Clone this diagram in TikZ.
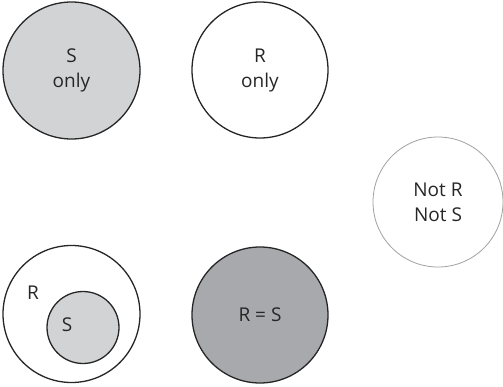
\documentclass[tikz,border=0pt]{standalone}
\usepackage{fontspec}
\setmainfont{Open Sans}
\definecolor{setlight}{HTML}{D1D3D4}
\definecolor{setdark}{HTML}{A7A9AC}
\definecolor{setrim}{HTML}{A0A0A0}
\tikzset{
  setcirc/.style={circle, draw=black!85, line width=1.3pt, inner sep=0pt,
    align=center, font=\fontsize{19}{25}\selectfont, text=black!85},
  lbl/.style={font=\fontsize{19}{25}\selectfont, text=black!85}
}

\begin{document}
\begin{tikzpicture}[x=1pt,y=-1pt]

\useasboundingbox (0,0) rectangle (503,386);

% top row
\node[setcirc, fill=setlight, minimum size=137pt] (sonly) at (71.5,70.5) {S\\only};
\node[setcirc, minimum size=136pt] (ronly) at (260,70) {R\\only};

% neither set
\node[setcirc, draw=setrim, line width=0.8pt, minimum size=130pt] (neither) at (438,202) {Not R\\Not S};

% S inside R
\node[setcirc, minimum size=137pt] (rset) at (71.5,314) {};
\node[setcirc, fill=setlight, minimum size=72pt] (sset) at (83,327.5) {};
\node[lbl] (rlbl) at (33,293) {R};
\node[lbl] (slbl) at (67,325) {S};

% equal sets
\node[setcirc, fill=setdark, minimum size=136pt] (requal) at (260,315) {R = S};

\end{tikzpicture}
\end{document}
